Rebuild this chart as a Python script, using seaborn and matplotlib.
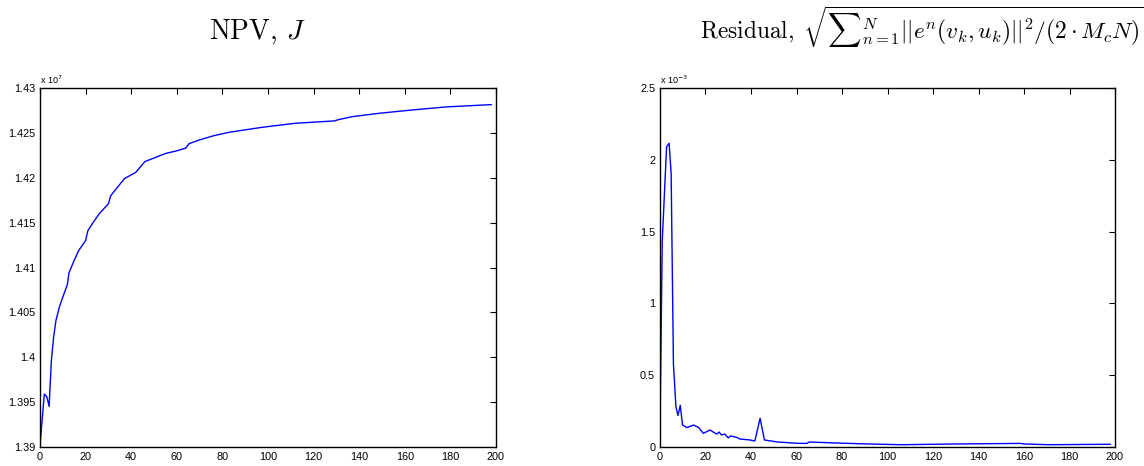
import numpy as np
import pandas as pd
import matplotlib
matplotlib.use("Agg")
import matplotlib.pyplot as plt
from matplotlib.ticker import FuncFormatter, MultipleLocator
import seaborn as sns

# ---- data ----
npv_iter = [0, 1.9, 3, 4, 5, 6, 7, 8.5, 10, 12, 12.7, 15, 17, 20, 21, 23, 26, 30, 31,
            34.5, 37, 42, 44, 46, 51, 55, 60, 63.9, 65.4, 70, 76, 83, 97.7, 112, 129,
            131, 137, 149, 163.6, 178, 198]
npv_val = [1.3902, 1.3959, 1.3956, 1.39452, 1.3997, 1.4023, 1.4041, 1.4056, 1.4067,
           1.4081, 1.4094, 1.4108, 1.4119, 1.4130, 1.4141, 1.4149, 1.4160, 1.4171,
           1.4180, 1.4191, 1.4199, 1.4206, 1.4212, 1.4218, 1.4223, 1.4227, 1.4230,
           1.4233, 1.4238, 1.42422, 1.42467, 1.42507, 1.42563, 1.42607, 1.42633,
           1.42648, 1.42681, 1.42719, 1.42756, 1.42789, 1.42815]
npv_val = [v * 1e7 for v in npv_val]

res_iter = [0, 1.0, 2.9, 4, 4.9, 5.9, 7, 7.9, 8.9, 9.9, 11.8, 14.8, 17, 19, 22, 24.9,
            26, 27, 28.5, 30, 31, 33.7, 35, 39.5, 41.7, 44, 45.9, 51.6, 60, 64.6, 65.6,
            77, 91.6, 106, 130, 158.3, 160, 171, 198]
res_val = [0.15, 1.44, 2.09, 2.115, 1.905, 0.58, 0.28, 0.22, 0.29, 0.153, 0.135, 0.153,
           0.135, 0.095, 0.118, 0.09, 0.104, 0.084, 0.09, 0.063, 0.077, 0.067, 0.056,
           0.049, 0.042, 0.20, 0.049, 0.035, 0.026, 0.025, 0.035, 0.028, 0.021, 0.016,
           0.021, 0.025, 0.021, 0.016, 0.019]
res_val = [v * 1e-3 for v in res_val]

x_ticks = list(range(0, 201, 20))
title_left = r"$\mathrm{NPV,}\,J$"
title_right = r"$\mathrm{Residual,}\;\sqrt{{\sum}_{n=1}^{N}||e^n(v_k,u_k)||^2/(2\cdot M_cN)}$"

# ---- style ----
sns.set_theme(style="white")
plt.rcParams["font.family"] = ["Liberation Sans", "DejaVu Sans"]
plt.rcParams["mathtext.fontset"] = "cm"
plt.rcParams["text.color"] = "black"

W, H = 1144, 466
fig = plt.figure(figsize=(W / 100, H / 100), dpi=100)
fig.patch.set_facecolor("white")

def px_axes(x0, x1, y0, y1):
    return fig.add_axes([x0 / W, 1 - y1 / H, (x1 - x0) / W, (y1 - y0) / H])

ax1 = px_axes(40, 496, 88, 447)
ax2 = px_axes(660, 1115, 88, 447)

df1 = pd.DataFrame({"iter": npv_iter, "val": npv_val})
df2 = pd.DataFrame({"iter": res_iter, "val": res_val})

sns.lineplot(data=df1, x="iter", y="val", ax=ax1, color=(0, 0, 1), lw=1.0,
             estimator=None, sort=False)
sns.lineplot(data=df2, x="iter", y="val", ax=ax2, color=(0, 0, 1), lw=1.0,
             estimator=None, sort=False)

for ax in (ax1, ax2):
    ax.set_facecolor("white")
    ax.set_xlim(0, 200)
    ax.set_xticks(x_ticks)
    ax.set_xlabel("")
    ax.set_ylabel("")
    for s in ax.spines.values():
        s.set_visible(True)
        s.set_color("black")
        s.set_linewidth(1.0)
    ax.tick_params(direction="in", length=4, width=0.8, top=True, right=True,
                   labelsize=7.8, colors="black", pad=3.5)
    ax.grid(False)

ax1.set_ylim(1.39e7, 1.43e7)
ax1.yaxis.set_major_locator(MultipleLocator(0.005e7))
ax1.yaxis.set_major_formatter(FuncFormatter(lambda v, p: "%g" % round(v / 1e7, 4)))
ax2.set_ylim(0, 2.5e-3)
ax2.yaxis.set_major_locator(MultipleLocator(0.5e-3))
ax2.yaxis.set_major_formatter(FuncFormatter(lambda v, p: "%g" % round(v / 1e-3, 4)))

ax1.text(0.0, 1.006, r"x 10$^{7}$", transform=ax1.transAxes, fontsize=6.5,
         ha="left", va="bottom", math_fontfamily="dejavusans", color="black")
ax2.text(0.0, 1.006, r"x 10$^{-3}$", transform=ax2.transAxes, fontsize=6.5,
         ha="left", va="bottom", math_fontfamily="dejavusans", color="black")

fig.text(257 / W, 1 - 39 / H, title_left, fontsize=20, ha="center",
         va="baseline", color="black")
fig.text(922 / W, 1 - 39 / H, title_right, fontsize=16.8, ha="center",
         va="baseline", color="black")

fig.savefig("out.png", dpi=100, facecolor="white")
